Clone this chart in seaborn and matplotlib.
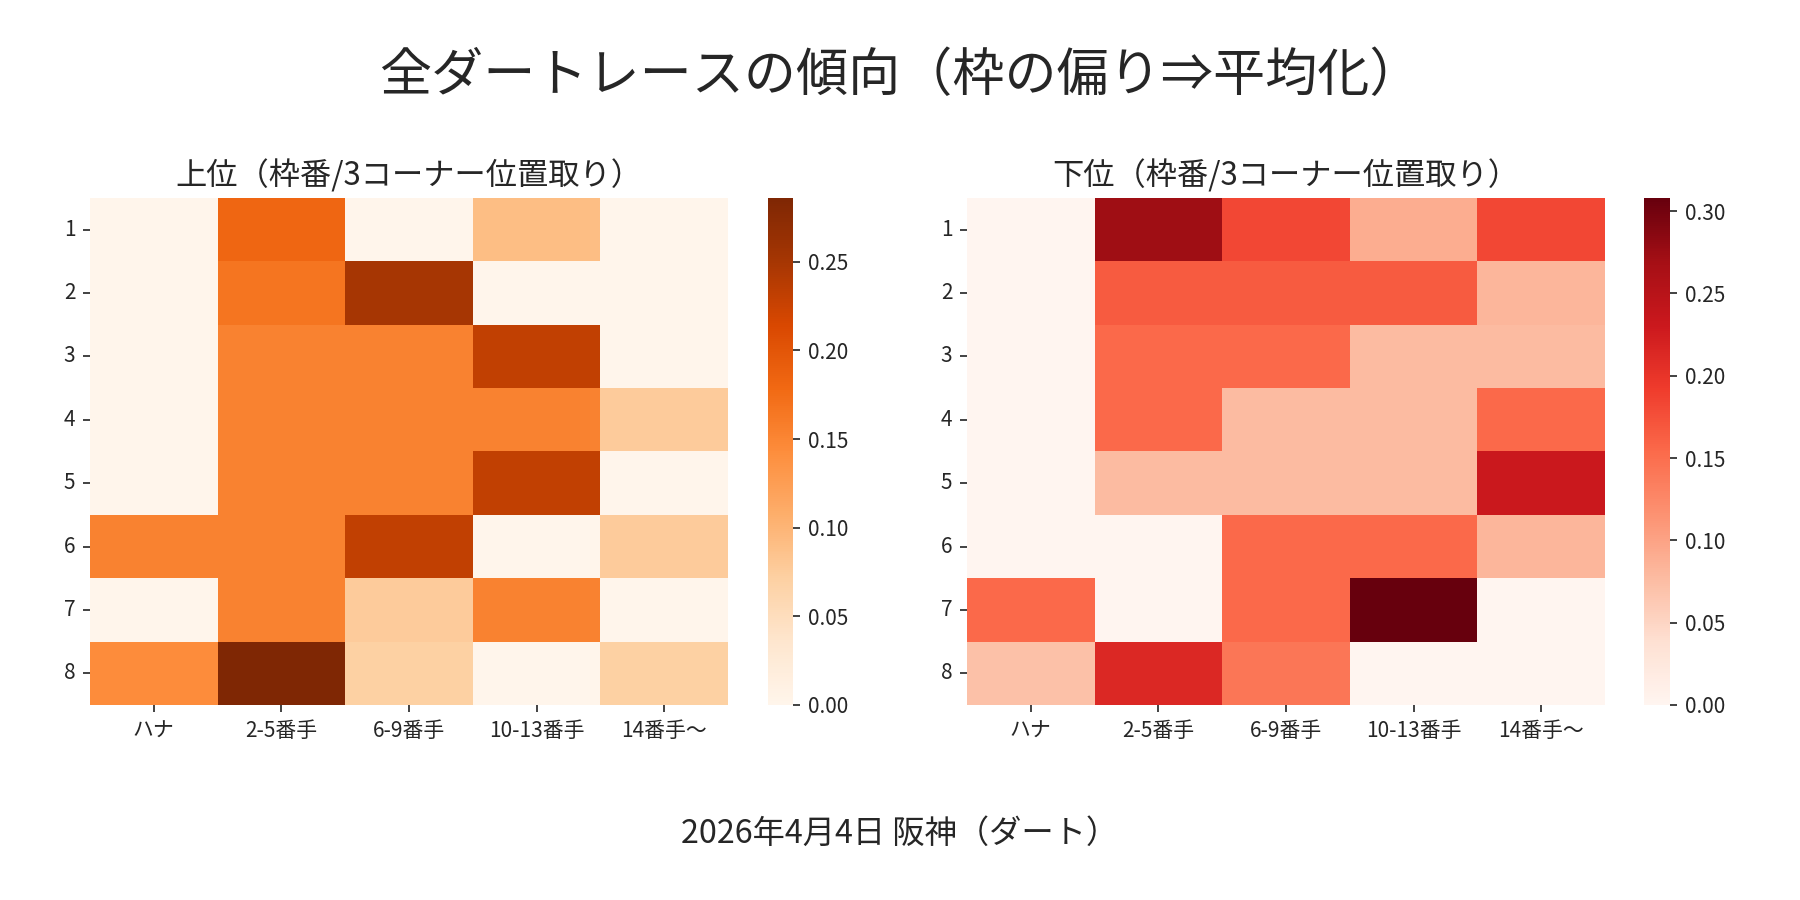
import matplotlib
matplotlib.use('Agg')
import matplotlib.pyplot as plt
import seaborn as sns
import pandas as pd

sns.set_theme(style='white')
plt.rcParams['font.family'] = ['Noto Sans CJK JP', 'DejaVu Sans']
plt.rcParams['axes.unicode_minus'] = False

# 枠番（行）と3コーナー位置取り（列）
waku = ['1', '2', '3', '4', '5', '6', '7', '8']
positions = ['ハナ', '2-5番手', '6-9番手', '10-13番手', '14番手〜']

# 上位の割合
upper_vals = [
    [0.000, 0.182, 0.000, 0.091, 0.000],
    [0.000, 0.167, 0.250, 0.000, 0.000],
    [0.000, 0.154, 0.154, 0.231, 0.000],
    [0.000, 0.154, 0.154, 0.154, 0.077],
    [0.000, 0.154, 0.154, 0.231, 0.000],
    [0.154, 0.154, 0.231, 0.000, 0.077],
    [0.000, 0.154, 0.077, 0.154, 0.000],
    [0.143, 0.286, 0.071, 0.000, 0.071],
]

# 下位の割合
lower_vals = [
    [0.000, 0.273, 0.182, 0.091, 0.182],
    [0.000, 0.167, 0.167, 0.167, 0.083],
    [0.000, 0.154, 0.154, 0.077, 0.077],
    [0.000, 0.154, 0.077, 0.077, 0.154],
    [0.000, 0.077, 0.077, 0.077, 0.231],
    [0.000, 0.000, 0.154, 0.154, 0.083],
    [0.154, 0.000, 0.154, 0.308, 0.000],
    [0.071, 0.214, 0.143, 0.000, 0.000],
]

df_upper = pd.DataFrame(upper_vals, index=waku, columns=positions)
df_lower = pd.DataFrame(lower_vals, index=waku, columns=positions)

fig = plt.figure(figsize=(12, 6), dpi=150)
ax1 = fig.add_axes([0.050, 0.2167, 0.3544, 0.5633])
cax1 = fig.add_axes([0.4267, 0.2167, 0.0139, 0.5633])
ax2 = fig.add_axes([0.5372, 0.2167, 0.3545, 0.5633])
cax2 = fig.add_axes([0.9133, 0.2167, 0.0145, 0.5633])

sns.heatmap(df_upper, cmap='Oranges', ax=ax1, cbar_ax=cax1)
sns.heatmap(df_lower, cmap='Reds', ax=ax2, cbar_ax=cax2)

for ax, title in [(ax1, '上位（枠番/3コーナー位置取り）'),
                  (ax2, '下位（枠番/3コーナー位置取り）')]:
    ax.set_title(title, fontsize=15)
    ax.set_xlabel('')
    ax.set_ylabel('')
    ax.tick_params(axis='both', labelsize=10, length=3.5, width=0.8,
                   left=True, bottom=True, color='#222222')
    plt.setp(ax.get_yticklabels(), rotation=0)
    plt.setp(ax.get_xticklabels(), rotation=0)

for cax in (cax1, cax2):
    cax.tick_params(labelsize=10, length=3.5, width=0.8, right=True, color='#222222')

fig.suptitle('全ダートレースの傾向（枠の偏り⇒平均化）', fontsize=25, y=0.945)
fig.text(0.5, 0.074, '2026年4月4日 阪神（ダート）', ha='center', va='center', fontsize=15.5)

plt.savefig('out.png', dpi=150)
